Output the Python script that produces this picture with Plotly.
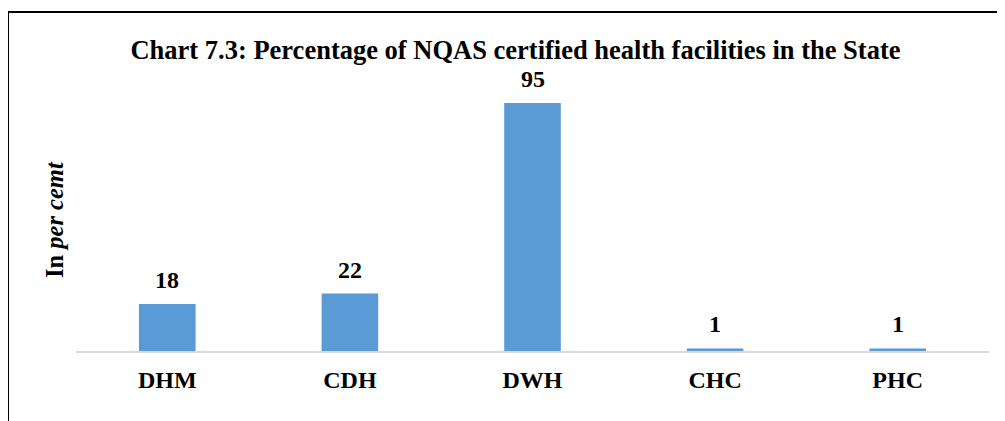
import plotly.graph_objects as go

categories = ["DHM", "CDH", "DWH", "CHC", "PHC"]
values = [18, 22, 95, 1, 1]
title_text = "Chart 7.3: Percentage of NQAS certified health facilities in the State"

OFF = 8  # default page body margin
W, H = 1005 - OFF, 421 - OFF
# plot area in page pixels: x 76..989, y 90..351
L, R = 76 - OFF, 16
T = 90 - OFF
B = H - (351 - OFF)
pw = W - L - R
ph = H - T - B

FONT = "Liberation Serif"

fig = go.Figure()
fig.add_trace(go.Bar(
    x=categories, y=values,
    marker=dict(color="#5b9bd5", line=dict(width=0)),
    width=0.31,
))

for c, v in zip(categories, values):
    fig.add_annotation(
        x=c, y=v, xref="x", yref="y",
        text="<b>%d</b>" % v, showarrow=False,
        yanchor="bottom", yshift=9,
        font=dict(family=FONT, size=24, color="#000000"),
    )

def px2xp(x):
    return (x - OFF - L) / pw

def px2yp(y):
    return (H - B - (y - OFF)) / ph

fig.update_layout(
    width=W, height=H,
    margin=dict(l=L, r=R, t=T, b=B),
    paper_bgcolor="white", plot_bgcolor="white",
    showlegend=False,
    title=dict(
        text="<b>" + title_text + "</b>",
        x=(515.5 - OFF) / W, xanchor="center",
        y=1 - (50 - OFF) / H, yanchor="middle",
        font=dict(family=FONT, size=26.5, color="#000000"),
    ),
    xaxis=dict(
        showgrid=False, showline=True, linecolor="#d9d9d9", linewidth=1.5,
        ticks="", tickfont=dict(family=FONT, size=24, color="#000000"),
        tickvals=categories, ticktext=["<b>" + c + "</b>" for c in categories],
        ticklabelstandoff=6,
    ),
    yaxis=dict(
        range=[0, 100], showgrid=False, showline=False, zeroline=False,
        showticklabels=False, ticks="",
    ),
    font=dict(family=FONT),
)

fig.add_annotation(
    text="<b>In <i>per cemt</i></b>", textangle=-90,
    xref="paper", yref="paper",
    x=px2xp(54), y=px2yp(220), xanchor="center", yanchor="middle",
    showarrow=False,
    font=dict(family=FONT, size=24.5, color="#000000"),
)

# outer frame lines (left and top)
fig.add_shape(type="line", xref="paper", yref="paper",
              x0=px2xp(8), y0=px2yp(12), x1=px2xp(8), y1=px2yp(440),
              line=dict(color="black", width=2))
fig.add_shape(type="line", xref="paper", yref="paper",
              x0=px2xp(7), y0=px2yp(12), x1=px2xp(1020), y1=px2yp(12),
              line=dict(color="black", width=2))

fig.write_html("out.html")
